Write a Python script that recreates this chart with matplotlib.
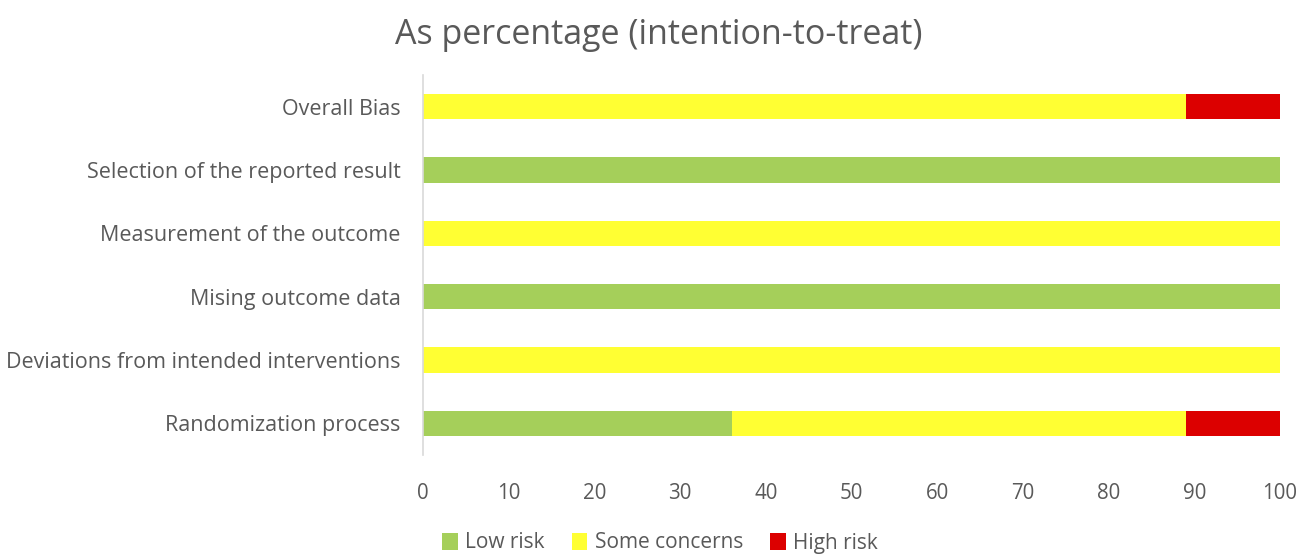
import matplotlib
matplotlib.use("Agg")
import matplotlib.pyplot as plt
from matplotlib.patches import Patch

categories = ["Randomization process", "Deviations from intended interventions",
              "Mising outcome data", "Measurement of the outcome",
              "Selection of the reported result", "Overall Bias"]
low_risk = [36, 0, 100, 0, 100, 0]
some_concerns = [53, 100, 0, 100, 0, 89]
high_risk = [11, 0, 0, 0, 0, 11]
series_names = ["Low risk", "Some concerns", "High risk"]
colors = ["#A5CF5A", "#FFFF33", "#DC0000"]
xticks = [0, 10, 20, 30, 40, 50, 60, 70, 80, 90, 100]

plt.rcParams['font.family'] = ['Open Sans', 'DejaVu Sans']
txt = "#595959"

fig = plt.figure(figsize=(13.01, 5.59), dpi=100)
ax = fig.add_axes([423/1301, 1-455/559, (1280-423)/1301, (455-75)/559])

y = list(range(len(categories)))
left = [0]*len(categories)
for vals, name, c in zip([low_risk, some_concerns, high_risk], series_names, colors):
    ax.barh(y, vals, left=left, height=0.4, color=c, label=name)
    left = [l+v for l, v in zip(left, vals)]

ax.set_xlim(0, 100)
ax.set_ylim(-0.5, len(categories)-0.5)
ax.set_yticks(y)
ax.set_yticklabels(categories, fontsize=15.5, color=txt)
ax.set_xticks(xticks)
ax.set_xticklabels([str(t) for t in xticks], fontsize=14.8, color=txt)
ax.tick_params(axis='both', length=0)
ax.tick_params(axis='x', pad=20)
ax.tick_params(axis='y', pad=16)
for s in ['top', 'right', 'bottom']:
    ax.spines[s].set_visible(False)
ax.spines['left'].set_color('#D9D9D9')
ax.spines['left'].set_linewidth(1.2)

fig.text(659/1301, 1-35/559, "As percentage (intention-to-treat)", ha='center', va='center',
         fontsize=24.5, color=txt)

handles = [Patch(facecolor=c, edgecolor='none') for c in colors]
fig.legend(handles, series_names, loc='center', bbox_to_anchor=(660/1301, 1-543/559),
           ncol=3, frameon=False, fontsize=15, labelcolor=txt,
           handlelength=0.75, handleheight=0.9, handletextpad=0.35, columnspacing=1.3)

fig.savefig("out.png", dpi=100)
